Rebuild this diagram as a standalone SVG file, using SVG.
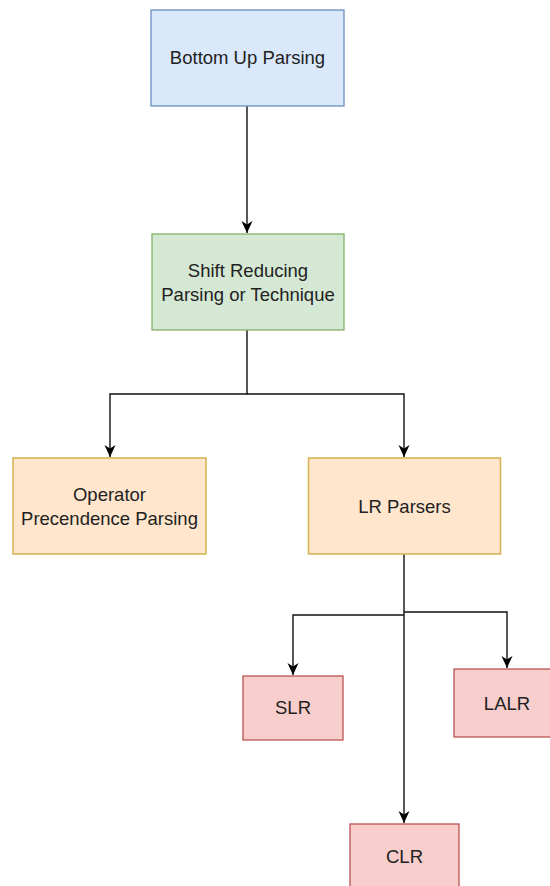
<svg xmlns="http://www.w3.org/2000/svg" width="550" height="886" viewBox="0 0 550 886">
<style>
.t{font-family:"Liberation Sans",Arial,sans-serif;font-size:18.5px;fill:#222;text-anchor:middle}
.c{fill:none;stroke:#111;stroke-width:1.4}
.blue{fill:#dae8fc;stroke:#6c8ebf;stroke-width:1.3}
.green{fill:#d5e8d4;stroke:#82b366;stroke-width:1.3}
.orange{fill:#ffe6cc;stroke:#d6b656;stroke-width:1.6}
.red{fill:#f8cecc;stroke:#b85450;stroke-width:1.3}
</style>
<defs>
<marker id="a" markerWidth="14" markerHeight="14" refX="12" refY="7" orient="auto" markerUnits="userSpaceOnUse">
<path d="M0,1.5 L12,7 L0,12.5 L3.5,7 Z" fill="#000"/>
</marker>
</defs>
<g id="connectors">
<path class="c" d="M247,106 V233" marker-end="url(#a)"/>
<path class="c" d="M247,330 V394 H110 V457" marker-end="url(#a)"/>
<path class="c" d="M247,394 H404 V457" marker-end="url(#a)"/>
<path class="c" d="M404,554 V823" marker-end="url(#a)"/>
<path class="c" d="M404,615 H293 V675" marker-end="url(#a)"/>
<path class="c" d="M404,612 H507 V668" marker-end="url(#a)"/>
</g>
<g id="bottom-up">
<rect class="blue" x="151" y="10" width="193" height="96"/>
<text class="t" x="247.5" y="64">Bottom Up Parsing</text>
</g>
<g id="shift-reduce">
<rect class="green" x="152" y="234" width="192" height="96"/>
<text class="t" x="248" y="277">Shift Reducing</text>
<text class="t" x="248" y="300.5">Parsing or Technique</text>
</g>
<g id="operator">
<rect class="orange" x="13" y="458" width="193" height="96"/>
<text class="t" x="109.5" y="501">Operator</text>
<text class="t" x="109.5" y="524.5">Precendence Parsing</text>
</g>
<g id="lr">
<rect class="orange" x="308.5" y="458" width="192" height="96"/>
<text class="t" x="404.5" y="513">LR Parsers</text>
</g>
<g id="slr">
<rect class="red" x="243" y="676" width="100" height="64"/>
<text class="t" x="293" y="714">SLR</text>
</g>
<g id="lalr">
<rect class="red" x="454" y="669" width="110" height="68"/>
<text class="t" x="507" y="709.5">LALR</text>
</g>
<g id="clr">
<rect class="red" x="350" y="824" width="109" height="70"/>
<text class="t" x="404.5" y="862.5">CLR</text>
</g>
</svg>
